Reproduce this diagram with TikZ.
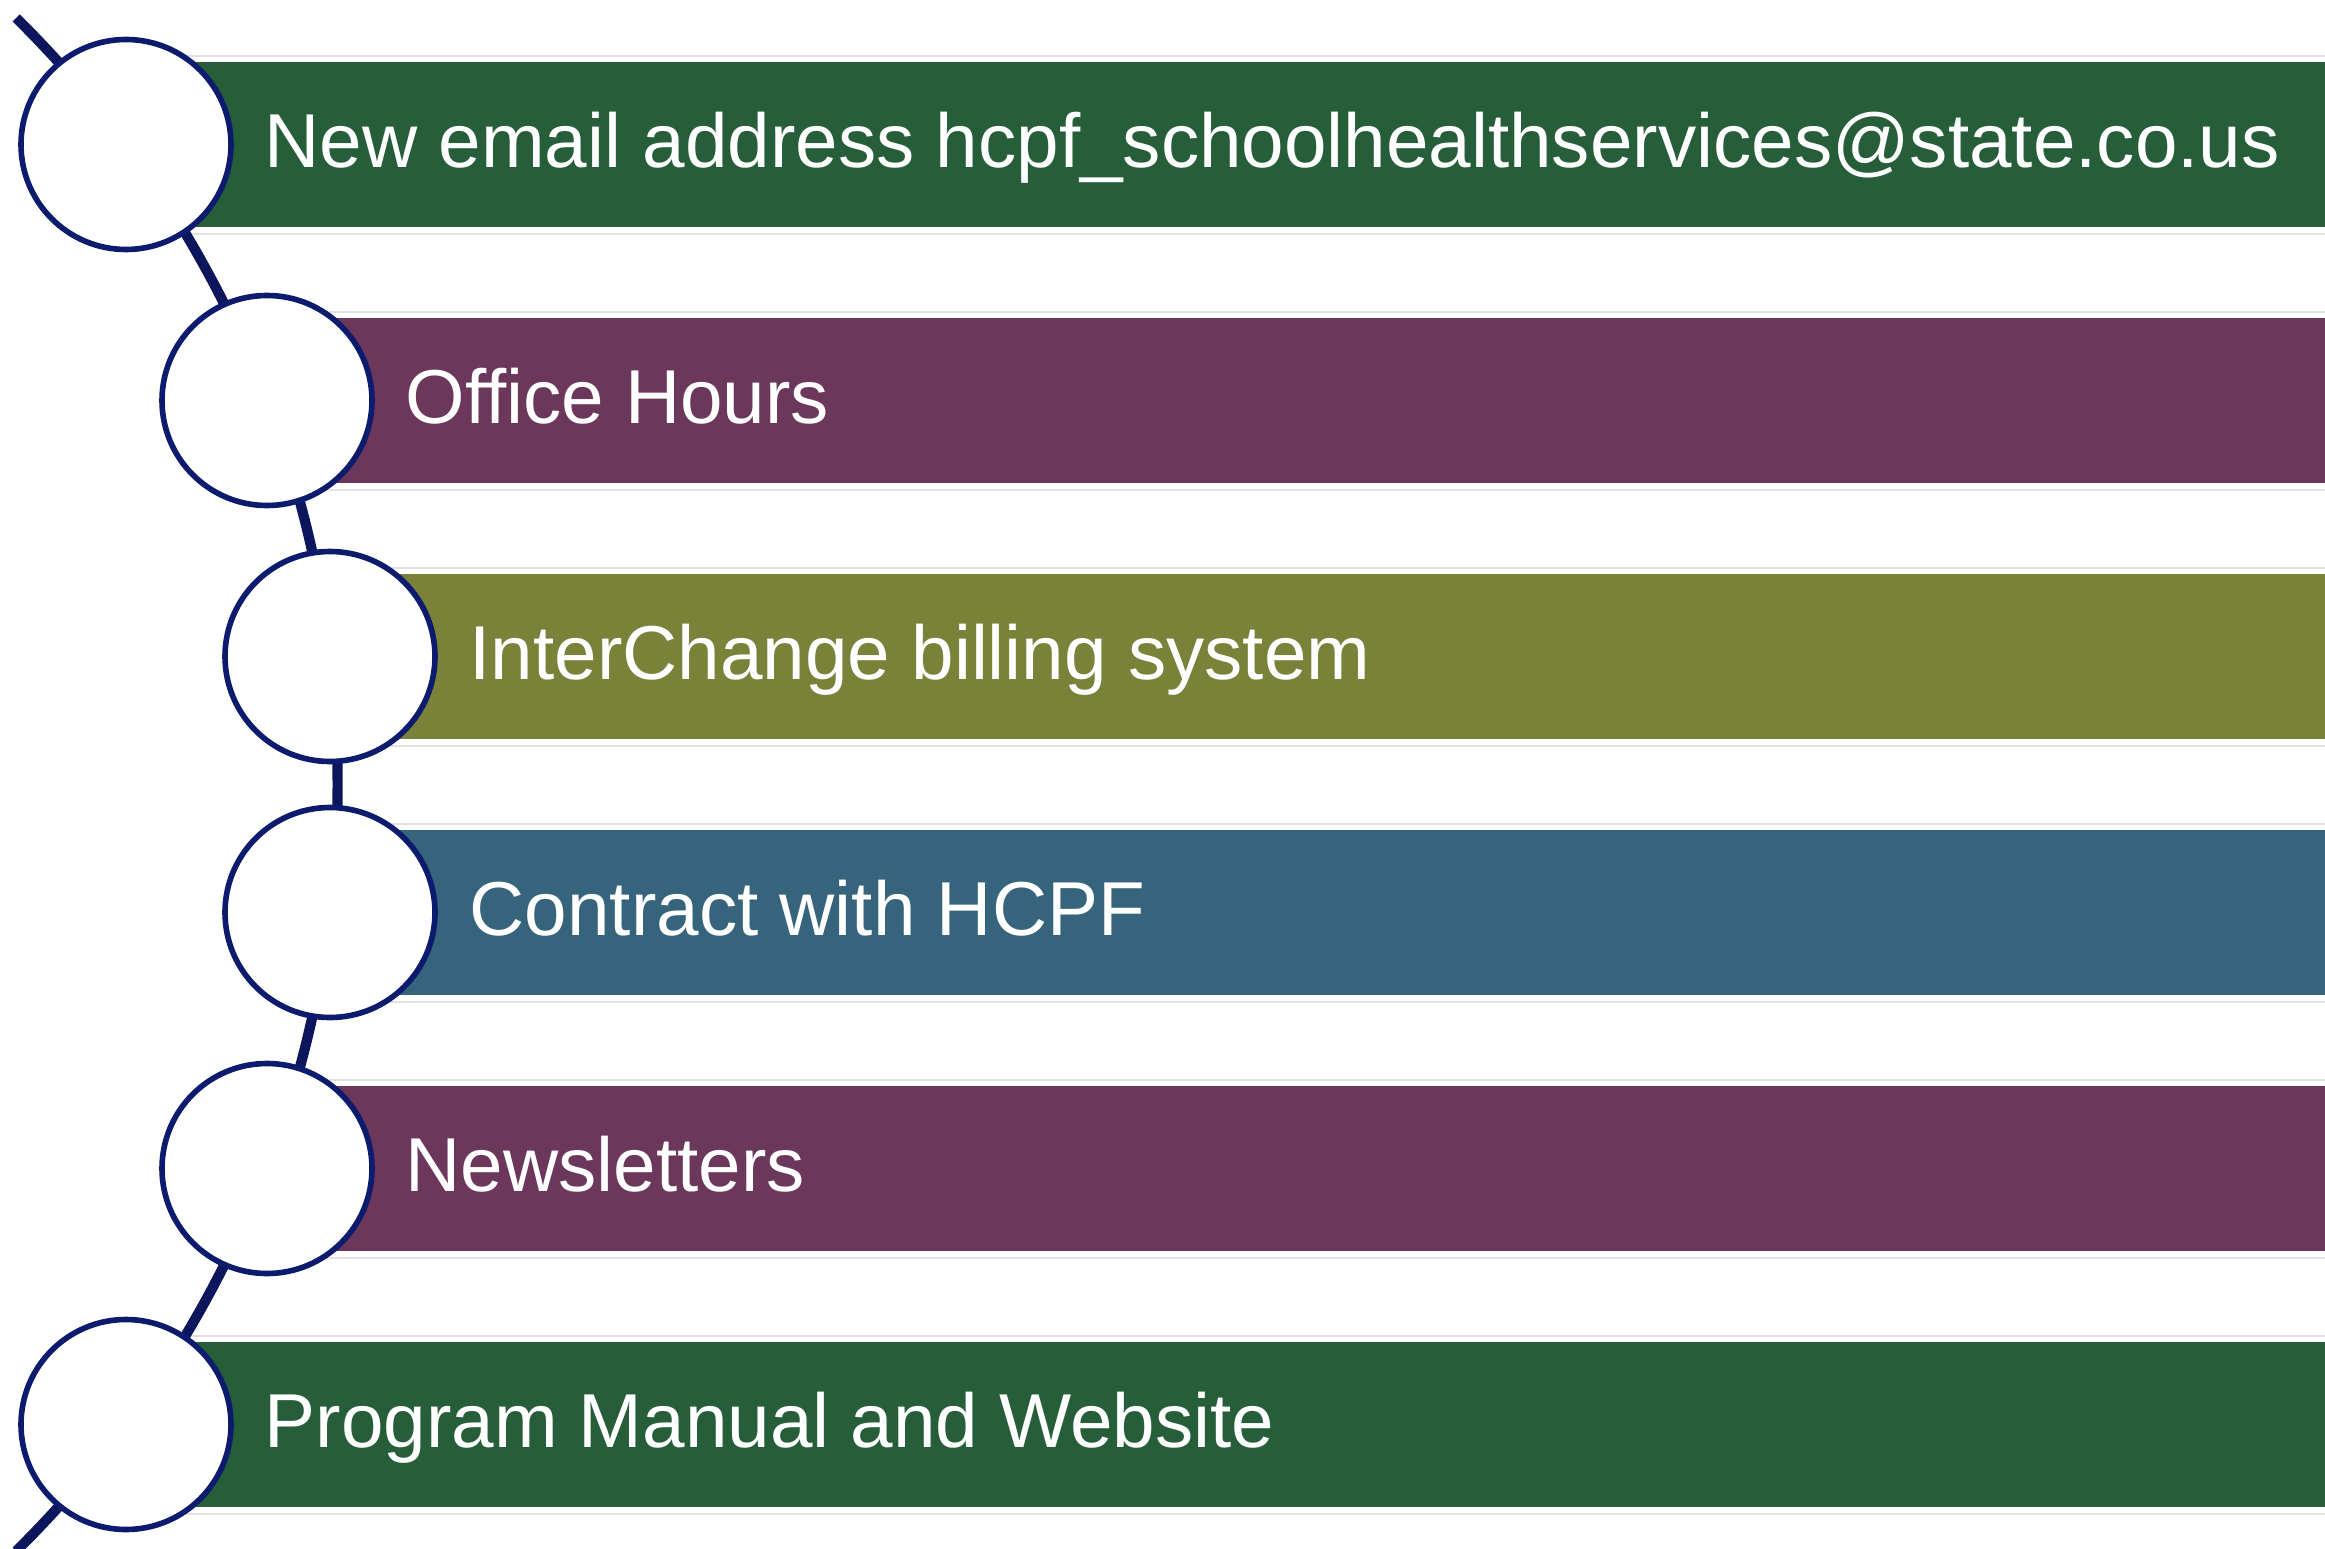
\documentclass[tikz,border=0pt]{standalone}
\usepackage{fontspec}
\setmainfont{Liberation Sans}
\usetikzlibrary{backgrounds}
\definecolor{cgreen}{RGB}{38,94,57}
\definecolor{cpurple}{RGB}{107,56,91}
\definecolor{colive}{RGB}{122,130,58}
\definecolor{cteal}{RGB}{53,100,124}
\definecolor{cnavy}{RGB}{13,27,110}
\definecolor{cline}{RGB}{12,22,92}
\definecolor{cedge}{RGB}{226,226,226}
\begin{document}
\begin{tikzpicture}[
  dot/.style={circle, draw=cnavy, line width=1.6pt, fill=white, minimum size=2.10cm, inner sep=0pt},
  bar/.style={rectangle, minimum height=1.65cm, minimum width=24cm, inner sep=0pt, anchor=west},
  lab/.style={anchor=base west, text=white, font=\fontsize{21.75pt}{26pt}\selectfont, inner sep=0pt},
  arcline/.style={draw=cline, line width=2.9pt},
  edgeline/.style={draw=cedge, line width=0.6pt},
  arcseg/.style={looseness=0.852}
]
\useasboundingbox (0,0) rectangle (23.25,-15.48);
\clip (0,0) rectangle (23.25,-15.48);

% circles
\node[dot] (c1) at (1.26,-1.445) {};
\node[dot] (c2) at (2.67,-4.005) {};
\node[dot] (c3) at (3.30,-6.565) {};
\node[dot] (c4) at (3.30,-9.125) {};
\node[dot] (c5) at (2.67,-11.685) {};
\node[dot] (c6) at (1.26,-14.245) {};

% arc ends
\coordinate (tstart) at (0.162,-0.180);
\coordinate (tend) at (0.162,-15.510);

\begin{pgfonlayer}{background}
  \node[bar, fill=cgreen]  (b1) at (c1.center) {};
  \node[bar, fill=cpurple] (b2) at (c2.center) {};
  \node[bar, fill=colive]  (b3) at (c3.center) {};
  \node[bar, fill=cteal]   (b4) at (c4.center) {};
  \node[bar, fill=cpurple] (b5) at (c5.center) {};
  \node[bar, fill=cgreen]  (b6) at (c6.center) {};
  \foreach \b in {b1,b2,b3,b4,b5,b6}{
    \draw[edgeline] ([yshift=0.05cm]\b.north west) -- ([yshift=0.05cm]\b.north east);
    \draw[edgeline] ([yshift=-0.06cm]\b.south west) -- ([yshift=-0.06cm]\b.south east);
  }
  \draw[arcline] (tstart) to[bend left=4.47, arcseg] (c1.center)
                 to[bend left=7.815, arcseg] (c2.center)
                 to[bend left=7.045, arcseg] (c3.center)
                 to[bend left=6.84, arcseg] (c4.center)
                 to[bend left=7.045, arcseg] (c5.center)
                 to[bend left=7.815, arcseg] (c6.center)
                 to[bend left=4.47, arcseg] (tend);
\end{pgfonlayer}

% labels
\node[lab] (t1) at ([xshift=1.38cm, yshift=-0.23cm]c1.center) {New email address hcpf\_schoolhealthservices@state.co.us};
\node[lab] (t2) at ([xshift=1.38cm, yshift=-0.23cm]c2.center) {Office Hours};
\node[lab] (t3) at ([xshift=1.39cm, yshift=-0.23cm]c3.center) {InterChange billing system};
\node[lab] (t4) at ([xshift=1.39cm, yshift=-0.23cm]c4.center) {Contract with HCPF};
\node[lab] (t5) at ([xshift=1.38cm, yshift=-0.23cm]c5.center) {Newsletters};
\node[lab] (t6) at ([xshift=1.38cm, yshift=-0.23cm]c6.center) {Program Manual and Website};
\end{tikzpicture}
\end{document}
